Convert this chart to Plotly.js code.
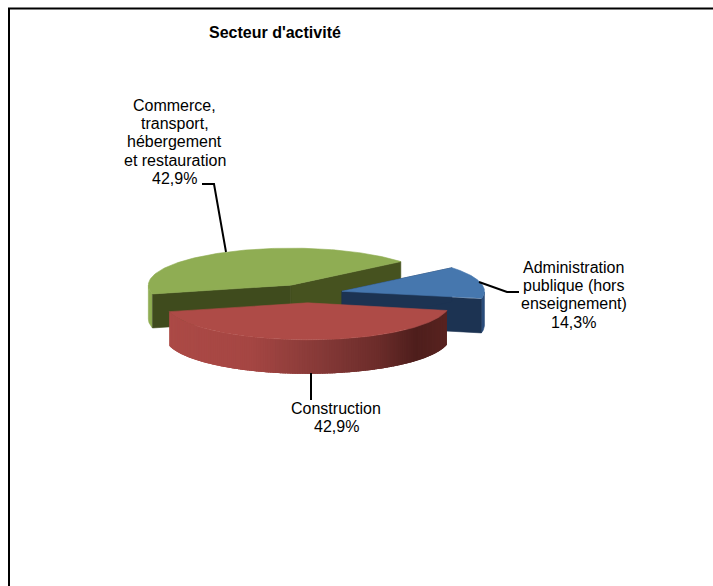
<!DOCTYPE html>
<html>
<head>
<meta charset="utf-8">
<script src="https://cdn.plot.ly/plotly-3.0.1.min.js"></script>
<style>html,body{margin:0;padding:0;background:#fff;overflow:hidden}</style>
</head>
<body>
<div id="chart" style="width:713px;height:586px"></div>
<script>
// Data
const categories = ["Commerce,\ntransport,\nhébergement\net restauration", "Construction", "Administration\npublique (hors\nenseignement)"];
const values = [42.9, 42.9, 14.3];
const topColors = ["#8FAD53", "#AE4B47", "#4677AE"];
const wallColors = ["#8FAD53", "#A94845", "#2A4C7A"];
const innerColors = [["#46521F", "#3F4B1D"], ["#5A2220", "#5A2220"], ["#1C3352", "#1C3352"]];
const redWallStops = [[0, "#AC4A46"], [0.3, "#A54643"], [0.55, "#853937"], [0.75, "#6B2C2A"], [0.88, "#4E1E1C"], [1, "#5A2421"]];
const titleText = "Secteur d'activité";

// Pie projection settings
const C = {x: 307, y: 293.5}, rx = 142.5, ry = 37, depth = 34, explode = 36, startAngle = 39.5;
const labelPos = [{x: 174.5, y: 105}, {x: 336, y: 408}, {x: 573.5, y: 267}];
const lineGap = 18.4;
const leaders = [
  {x: [226, 214, 202], y: [252, 184, 184]},
  {x: [311, 311], y: [373, 400]},
  {x: [479, 507, 519], y: [282, 292, 292]}
];

const rad = d => d * Math.PI / 180;
const total = values.reduce((a, b) => a + b, 0);
const traces = [];
function poly(pts, color, noLine) {
  traces.push({type: "scatter", mode: "lines", x: pts.map(p => p[0]), y: pts.map(p => p[1]),
    fill: "toself", fillcolor: color, line: {color: color, width: noLine ? 0 : 0.6}, hoverinfo: "skip", showlegend: false});
}
function hex(c) { return [1, 3, 5].map(i => parseInt(c.substr(i, 2), 16)); }
function stopColor(t) {
  t = Math.max(0, Math.min(1, t));
  for (let i = 1; i < redWallStops.length; i++) {
    if (t <= redWallStops[i][0]) {
      const [a, ca] = redWallStops[i - 1], [b, cb] = redWallStops[i];
      const f = (t - a) / (b - a), A = hex(ca), B = hex(cb);
      return "rgb(" + A.map((v, k) => Math.round(v + (B[k] - v) * f)).join(",") + ")";
    }
  }
  return redWallStops[redWallStops.length - 1][1];
}

let angle = startAngle;
const order = [0, 2, 1]; // back to front
const wedges = values.map(v => {
  const w = {a0: angle, a1: angle + v / total * 360};
  angle = w.a1;
  const mid = rad((w.a0 + w.a1) / 2);
  w.cx = C.x + explode * Math.cos(mid);
  w.cy = C.y - explode * ry / rx * Math.sin(mid);
  return w;
});
const rim = (w, a, dz) => [w.cx + rx * Math.cos(rad(a)), w.cy - ry * Math.sin(rad(a)) + (dz || 0)];

// front-facing part of each outer wall: angles between 180 and 360 (mod 360)
function frontRange(w) {
  const lo = Math.max(w.a0, 180), hi = Math.min(w.a1, 360);
  if (lo < hi) return [lo, hi];
  const lo2 = Math.max(w.a0, 540), hi2 = Math.min(w.a1, 720);
  if (w.a1 > 360 && w.a0 < 360) return [w.a0, 360];
  return lo2 < hi2 ? [lo2, hi2] : null;
}

order.forEach(i => {
  const w = wedges[i];
  const fr = frontRange(w);
  if (fr) {
    if (i === 1) {
      const step = 1;
      for (let a = fr[0]; a < fr[1]; a += step) {
        const b = Math.min(a + step * 2.5, fr[1]);
        const mid = rim(w, a + step / 2);
        const t = (mid[0] - (w.cx - rx)) / (2 * rx);
        const up = [], down = [];
        for (let q = a; q <= b + 1e-6; q += 0.5) { up.push(rim(w, q)); down.unshift(rim(w, q, depth)); }
        poly(up.concat(down, [up[0]]), stopColor(t), true);
      }
    } else {
      const up = [], down = [];
      for (let a = fr[0]; a <= fr[1] + 1e-6; a += 1) { up.push(rim(w, a)); down.unshift(rim(w, a, depth)); }
      poly(up.concat(down, [up[0]]), wallColors[i]);
    }
  }
  // inner cut faces
  const e0 = rim(w, w.a0), e1 = rim(w, w.a1), apex = [w.cx, w.cy];
  if (i !== 1) {
    poly([apex, e0, [e0[0], e0[1] + depth], [apex[0], apex[1] + depth], apex], innerColors[i][0]);
    poly([apex, e1, [e1[0], e1[1] + depth], [apex[0], apex[1] + depth], apex], innerColors[i][1]);
  }
  // top face
  const top = [apex];
  for (let a = w.a0; a <= w.a1 + 1e-6; a += 1) top.push(rim(w, a));
  top.push(e1, apex);
  poly(top, topColors[i]);
});

leaders.forEach(l => traces.push({type: "scatter", mode: "lines", x: l.x, y: l.y,
  line: {color: "#000", width: 2}, hoverinfo: "skip", showlegend: false}));

const annotations = [];
categories.forEach((c, i) => {
  const lines = c.split("\n").concat([values[i].toFixed(1).replace(".", ",") + "%"]);
  lines.forEach((t, k) => annotations.push({x: labelPos[i].x, y: labelPos[i].y + k * lineGap, xref: "x", yref: "y",
    text: t, showarrow: false, xanchor: "center", yanchor: "middle",
    font: {family: "Liberation Sans, Arial, sans-serif", size: 16, color: "#000"}}));
});
annotations.push({x: 274.5, y: 32, xref: "x", yref: "y", text: "<b>" + titleText + "</b>", showarrow: false,
  xanchor: "center", yanchor: "middle", font: {family: "Liberation Sans, Arial, sans-serif", size: 16, color: "#000"}});

const layout = {
  width: 713, height: 586, margin: {l: 0, r: 0, t: 0, b: 0},
  paper_bgcolor: "#fff", plot_bgcolor: "#fff", showlegend: false,
  xaxis: {range: [0, 713], visible: false, fixedrange: true},
  yaxis: {range: [586, 0], visible: false, fixedrange: true},
  annotations: annotations,
  shapes: [
    {type: "line", xref: "x", yref: "y", x0: 8, x1: 713, y0: 8.5, y1: 8.5, line: {color: "#000", width: 2}},
    {type: "line", xref: "x", yref: "y", x0: 9, x1: 9, y0: 8, y1: 586, line: {color: "#000", width: 2}}
  ]
};
Plotly.newPlot("chart", traces, layout, {displayModeBar: false, staticPlot: true});
</script>
</body>
</html>
